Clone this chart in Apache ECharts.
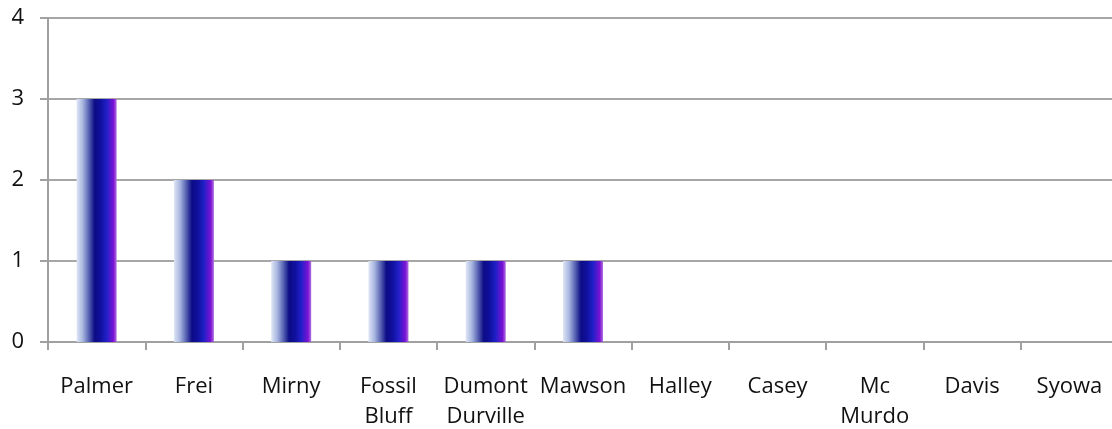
<!DOCTYPE html>
<html>
<head>
<meta charset="utf-8">
<style>
html,body{margin:0;padding:0;background:#fff;}
#chart{width:1112px;height:429px;}
</style>
<script src="https://cdn.jsdelivr.net/npm/echarts@6/dist/echarts.min.js"></script>
</head>
<body>
<div id="chart"></div>
<script>
var categories = ['Palmer', 'Frei', 'Mirny', 'Fossil\nBluff', 'Dumont\nDurville', 'Mawson', 'Halley', 'Casey', 'Mc\nMurdo', 'Davis', 'Syowa'];
var values = [3, 2, 1, 1, 1, 1, 0, 0, 0, 0, 0];
var yTicks = { min: 0, max: 4, interval: 1 };

var chart = echarts.init(document.getElementById('chart'));
var fontFam = '"Open Sans", "DejaVu Sans", sans-serif';
chart.setOption({
  animation: false,
  grid: { left: 48, top: 18, bottom: 87, width: 1070, containLabel: false, outerBoundsMode: 'none' },
  xAxis: {
    type: 'category',
    data: categories,
    boundaryGap: true,
    axisLine: { lineStyle: { color: '#a0a0a0', width: 2 } },
    axisTick: { show: true, length: 8, lineStyle: { color: '#a0a0a0', width: 2 } },
    axisLabel: { interval: 0, margin: 30, color: '#111', fontSize: 22, lineHeight: 30, fontFamily: fontFam, verticalAlign: 'top' }
  },
  yAxis: {
    type: 'value',
    min: yTicks.min, max: yTicks.max, interval: yTicks.interval,
    axisLine: { show: true, lineStyle: { color: '#a0a0a0', width: 2 } },
    axisTick: { show: true, length: 8, lineStyle: { color: '#a0a0a0', width: 2 } },
    splitLine: { show: true, lineStyle: { color: '#a6a6a6', width: 2 } },
    axisLabel: { margin: 24, color: '#111', fontSize: 22, fontFamily: fontFam }
  },
  series: [{
    type: 'bar',
    data: values,
    barWidth: 40,
    itemStyle: {
      color: new echarts.graphic.LinearGradient(0, 0, 1, 0, [
        { offset: 0, color: '#dfe6f6' },
        { offset: 0.15, color: '#a9b7e0' },
        { offset: 0.3, color: '#5a66b4' },
        { offset: 0.45, color: '#0c0c86' },
        { offset: 0.6, color: '#10109e' },
        { offset: 0.75, color: '#2020c8' },
        { offset: 0.92, color: '#7a12d4' },
        { offset: 1, color: '#b070e0' }
      ])
    }
  }]
});
</script>
</body>
</html>
